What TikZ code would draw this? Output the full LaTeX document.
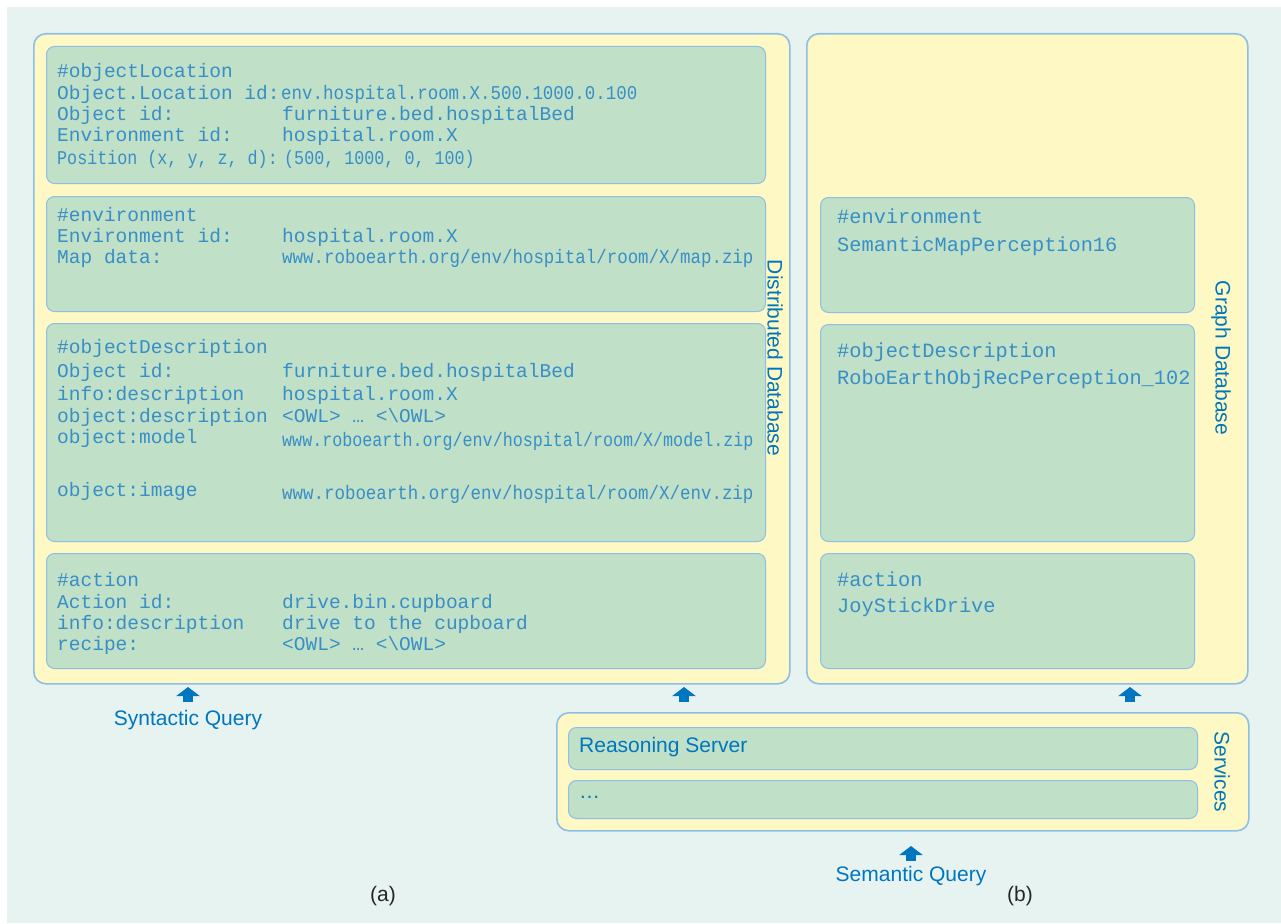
\documentclass[tikz,border=0pt]{standalone}
\usepackage{fontspec}
\setmainfont{Liberation Sans}
\newfontfamily\recfont{Liberation Mono}
\newfontfamily\recnarrowfont[FakeStretch=0.895]{Liberation Mono}
\newfontfamily\recnarrowerfont[FakeStretch=0.857]{Liberation Mono}
\usetikzlibrary{arrows.meta}

\definecolor{bgteal}{RGB}{231,243,241}
\definecolor{dbyellow}{RGB}{253,248,196}
\definecolor{recgreen}{RGB}{192,224,200}
\definecolor{edgeblue}{RGB}{143,190,228}
\definecolor{recblue}{RGB}{56,142,198}
\definecolor{labelblue}{RGB}{0,118,190}

\tikzstyle{panel}=[draw=edgeblue, line width=1.6pt, fill=dbyellow,
    rounded corners=12pt, anchor=north west, inner sep=0pt]
\tikzstyle{record}=[draw=edgeblue, line width=1pt, fill=recgreen,
    rounded corners=8pt, anchor=north west, inner sep=0pt]
\tikzstyle{rec text}=[anchor=base west, inner sep=0pt, text=recblue,
    font=\recfont\fontsize{19.5}{21}\selectfont]
\tikzstyle{narrow text}=[rec text, font=\recnarrowfont\fontsize{19.5}{21}\selectfont]
\tikzstyle{narrower text}=[rec text, font=\recnarrowerfont\fontsize{19.5}{21}\selectfont]
\tikzstyle{graph text}=[rec text, font=\recfont\fontsize{20.3}{22}\selectfont]
\tikzstyle{side label}=[inner sep=0pt, text=labelblue,
    font=\fontsize{21}{24}\selectfont, rotate=-90]
\tikzstyle{query label}=[anchor=base, inner sep=0pt, text=labelblue,
    font=\fontsize{21}{24}\selectfont]
\tikzstyle{query arrow}=[labelblue, line width=10pt,
    -{Triangle[width=23pt,length=9pt]}]
\newcommand{\recfield}[4]{%
    \node[rec text] (#1) at (57,#2) {#3};
    \node[rec text] (#1 val) at (282,#2) {#4};}

\begin{document}
\begin{tikzpicture}[x=1pt, y=-1pt]
    \useasboundingbox (0,0) rectangle (1281,923);
    \fill[white] (0,0) rectangle (1281,923);
    \fill[bgteal] (7,7) rectangle (1281,923);

    % panels
    \node[panel, minimum width=756pt, minimum height=650pt] (distdb) at (33,33) {};
    \node[panel, minimum width=441pt, minimum height=650pt] (graphdb) at (806,33) {};
    \node[panel, minimum width=692pt, minimum height=118pt] (services) at (556,712) {};

    % records
    \node[record, minimum width=719pt, minimum height=137pt] (objloc) at (46,46) {};
    \node[record, minimum width=719pt, minimum height=115pt] (env) at (46,196) {};
    \node[record, minimum width=719pt, minimum height=218pt] (objdesc) at (46,323) {};
    \node[record, minimum width=719pt, minimum height=115pt] (action) at (46,553) {};
    \node[record, minimum width=374pt, minimum height=115pt] (genv) at (820,197) {};
    \node[record, minimum width=374pt, minimum height=217pt] (gobjdesc) at (820,324) {};
    \node[record, minimum width=374pt, minimum height=115pt] (gaction) at (820,553) {};
    \node[record, minimum width=629pt, minimum height=42pt] (reasoning) at (568,727) {};
    \node[record, minimum width=629pt, minimum height=38pt] (moresrv) at (568,780) {};

    % distributed database entries
    \node[rec text] (objloc title) at (57,78) {\#objectLocation};
    \node[rec text] (objloc id) at (57,100) {Object.Location id:};
    \node[narrow text] (objloc id val) at (281,100) {env.hospital.room.X.500.1000.0.100};
    \recfield{objloc obj}{121}{Object id:}{furniture.bed.hospitalBed}
    \recfield{objloc env}{142}{Environment id:}{hospital.room.X}
    \node[narrower text] (objloc pos) at (57,164) {Position (x, y, z, d):};
    \node[narrower text] (objloc pos val) at (284,164) {(500, 1000, 0, 100)};

    \node[rec text] (env title) at (57,221) {\#environment};
    \recfield{env id}{242}{Environment id:}{hospital.room.X}
    \node[rec text] (env map) at (57,263) {Map data:};
    \node[narrow text] (env map val) at (282,263) {www.roboearth.org/env/hospital/room/X/map.zip};

    \node[rec text] (desc title) at (57,353) {\#objectDescription};
    \recfield{desc obj}{377}{Object id:}{furniture.bed.hospitalBed}
    \recfield{desc info}{400}{info:description}{hospital.room.X}
    \recfield{desc owl}{422}{object:description}{<OWL> … <\textbackslash OWL>}
    \node[rec text] (desc model) at (57,443) {object:model};
    \node[narrower text] (desc model val) at (282,446) {www.roboearth.org/env/hospital/room/X/model.zip};
    \node[rec text] (desc image) at (57,496) {object:image};
    \node[narrow text] (desc image val) at (282,499) {www.roboearth.org/env/hospital/room/X/env.zip};

    \node[rec text] (act title) at (57,586) {\#action};
    \recfield{act id}{608}{Action id:}{drive.bin.cupboard}
    \recfield{act info}{629}{info:description}{drive to the cupboard}
    \recfield{act recipe}{650}{recipe:}{<OWL> … <\textbackslash OWL>}

    % graph database entries
    \node[graph text] (genv title) at (837,223) {\#environment};
    \node[graph text] (genv val) at (837,251) {SemanticMapPerception16};
    \node[graph text] (gdesc title) at (837,357) {\#objectDescription};
    \node[graph text] (gdesc val) at (837,384) {RoboEarthObjRecPerception\_102};
    \node[graph text] (gact title) at (837,586) {\#action};
    \node[graph text] (gact val) at (837,612) {JoyStickDrive};

    % services entries
    \node[query label, anchor=base west] (reasoning text) at (579,752) {Reasoning Server};
    \node[query label, anchor=base west] (moresrv text) at (579,798) {…};

    % side labels
    \node[side label] (distdb label) at (775,358) {Distributed Database};
    \node[side label] (graphdb label) at (1221,358) {Graph Database};
    \node[side label] (services label) at (1222,772) {Services};

    % queries
    \node[query label] (synq) at (188,725) {Syntactic Query};
    \node[query label] (semq) at (911,881) {Semantic Query};
    \coordinate (synq foot) at (188,702);
    \coordinate (semq foot) at (911,861);
    \coordinate (to distdb) at (684,702);
    \coordinate (to graphdb) at (1130,702);
    \draw[query arrow] (synq foot) -- ++(0,-15);
    \draw[query arrow] (semq foot) -- ++(0,-15);
    \draw[query arrow] (to distdb) -- ++(0,-15);
    \draw[query arrow] (to graphdb) -- ++(0,-15);

    \node[anchor=base, inner sep=0pt, text=black!85, font=\fontsize{21}{24}\selectfont] (cap a) at (383,901) {(a)};
    \node[anchor=base, inner sep=0pt, text=black!85, font=\fontsize{21}{24}\selectfont] (cap b) at (1020,901) {(b)};
\end{tikzpicture}
\end{document}
